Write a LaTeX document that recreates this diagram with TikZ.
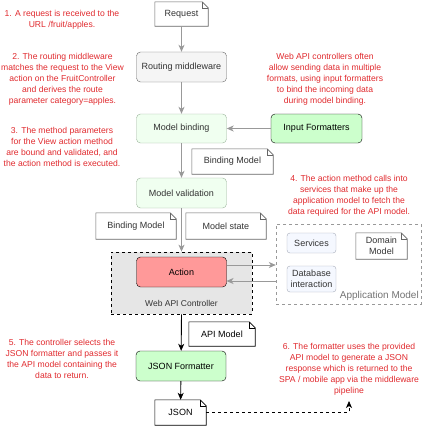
\documentclass[tikz,border=0pt]{standalone}
\usepackage{fontspec}
\setmainfont{Liberation Sans}
\usetikzlibrary{arrows.meta,positioning}
\definecolor{redtxt}{HTML}{E02A2E}
\definecolor{arrowgray}{HTML}{999999}
\definecolor{boxgray}{HTML}{666666}
\definecolor{txtgray}{HTML}{333333}
\definecolor{lightgreen}{HTML}{F0FFF0}
\definecolor{greenline}{HTML}{9AB39A}
\definecolor{midgreen}{HTML}{CCFFCC}
\definecolor{actred}{HTML}{FF9999}
\definecolor{ctrlfill}{HTML}{E6E6E6}
\definecolor{bluefill}{HTML}{F5F8FF}
\definecolor{blueline}{HTML}{A5ABB8}
\tikzset{
  every node/.style={font=\fontsize{9}{11}\selectfont},
  note/.style={text=redtxt, align=center, font=\fontsize{8.6}{11}\selectfont},
  rbox/.style={rectangle, rounded corners=4pt, minimum width=90pt, minimum height=30pt, inner sep=1pt, align=center},
  graybox/.style={rbox, fill=black!4, draw=boxgray, text=txtgray},
  greenbox/.style={rbox, fill=lightgreen, draw=greenline, text=txtgray},
  strongbox/.style={rbox, draw=black},
  bluebox/.style={rectangle, rounded corners=3pt, fill=bluefill, draw=blueline, text=txtgray, inner sep=1pt, align=center, minimum width=49pt},
  docnode/.style={rectangle, inner sep=1pt, align=center},
  garrow/.style={draw=arrowgray, line width=0.9pt, -{Stealth[length=7pt,width=6pt,inset=2pt]}},
  barrow/.style={draw=black, line width=0.9pt, -{Stealth[length=7pt,width=6pt,inset=2pt]}},
}
\newcommand\docshape[2]{%
  \draw[#2, fill=white, line width=0.6pt] (#1.south west) -- (#1.south east) -- ([yshift=-6pt]#1.north east) -- ([xshift=-6pt]#1.north east) -- (#1.north west) -- cycle;
  \draw[#2, line width=0.6pt] ([xshift=-6pt]#1.north east) |- ([yshift=-6pt]#1.north east);
}
\begin{document}
\begin{tikzpicture}[x=1pt,y=-1pt]
\useasboundingbox (0,0) rectangle (422,426);

% background containers
\node[rectangle, draw=black!40, dashed, minimum width=145pt, minimum height=80pt] (appm) at (348.5,264) {};
\node[anchor=south east, text=black!55, font=\fontsize{10}{12}\selectfont, inner sep=1pt] (appml) at (420,302) {Application Model};
\node[rectangle, draw=black, dashed, fill=ctrlfill, line width=0.7pt, minimum width=141pt, minimum height=62pt] (ctrl) at (181.5,283) {};
\node[text=txtgray, font=\fontsize{8.5}{10}\selectfont] (ctrll) at (181.5,303) {Web API Controller};

% documents
\node[docnode, minimum width=53pt, minimum height=24pt] (req) at (181.5,14) {};
\docshape{req}{draw=boxgray}
\node[text=txtgray] at (req) {Request};

\node[docnode, minimum width=81pt, minimum height=25pt] (bm1) at (232.5,161.5) {};
\docshape{bm1}{draw=boxgray}
\node[text=txtgray] at (bm1) {Binding Model};

\node[docnode, minimum width=80pt, minimum height=26pt] (bm2) at (136,226) {};
\docshape{bm2}{draw=boxgray}
\node[text=txtgray] at (bm2) {Binding Model};

\node[docnode, minimum width=80pt, minimum height=26pt] (mst) at (226,226) {};
\docshape{mst}{draw=boxgray}
\node[text=txtgray] at (mst) {Model state};

\node[docnode, minimum width=51pt, minimum height=26pt] (dom) at (381.5,246) {};
\docshape{dom}{draw=boxgray}
\node[text=txtgray, align=center] at (dom) {Domain\\Model};

\node[docnode, minimum width=66pt, minimum height=24pt] (api) at (222,334) {};
\docshape{api}{draw=black}
\node at (api) {API Model};

\node[docnode, minimum width=51pt, minimum height=25pt] (json) at (180.5,412.5) {};
\docshape{json}{draw=black}
\node at (json) {JSON};

% boxes
\node[graybox] (route) at (181.5,67) {Routing middleware};
\node[greenbox, minimum height=29pt] (mbind) at (181.5,128.5) {Model binding};
\node[strongbox, fill=midgreen, minimum width=91pt, minimum height=29pt] (infmt) at (316.5,128.5) {Input Formatters};
\node[greenbox] (mval) at (181.5,193) {Model validation};
\node[strongbox, fill=actred] (action) at (181.5,272) {Action};
\node[bluebox, minimum height=20pt] (serv) at (311.5,243) {Services};
\node[bluebox, minimum height=26pt] (db) at (311.5,279) {Database\\interaction};
\node[strongbox, fill=midgreen] (jfmt) at (181,366) {JSON Formatter};

% connectors
\coordinate (aout) at (226.5,265);
\coordinate (ain) at (226.5,281);
\draw[garrow] (req) -- (route);
\draw[garrow] (route) -- (mbind);
\draw[garrow] (infmt) -- (mbind);
\draw[garrow] (mbind) -- (mval);
\draw[garrow] (mval) -- (ctrl.north);
\draw[garrow] (aout) -- (aout -| appm.west);
\draw[garrow] (ain -| appm.west) -- (ain);
\draw[barrow] (ctrl.south) -- (jfmt);
\draw[barrow] (jfmt) -- (json);
\coordinate (resp) at (349,401);
\draw[black, line width=0.7pt, dashed, -{Stealth[length=7pt,width=6pt,inset=2pt]}] (json.east) -| (resp);

% notes
\node[note] (n1) at (62,19.5) {1. A request is received to the\\URL /fruit/apples.};
\node[note] (n2) at (62.5,79) {2. The routing middleware\\matches the request to the View\\action on the FruitController\\and derives the route\\parameter category=apples.};
\node[note] (n3) at (62,147) {3. The method parameters\\for the View action method\\are bound and validated, and\\the action method is executed.};
\node[note] (n4) at (349,196) {4. The action method calls into\\services that make up the\\application model to fetch the\\data required for the API model.};
\node[note] (n5) at (62,358.5) {5. The controller selects the\\JSON formatter and passes it\\the API model containing the\\data to return.};
\node[note] (n6) at (349,369) {6. The formatter uses the provided\\API model to generate a JSON\\response which is returned to the\\SPA / mobile app via the middleware\\pipeline};
\node[note] (nw) at (325,79) {Web API controllers often\\allow sending data in multiple\\formats, using input formatters\\to bind the incoming data\\during model binding.};
\end{tikzpicture}
\end{document}
